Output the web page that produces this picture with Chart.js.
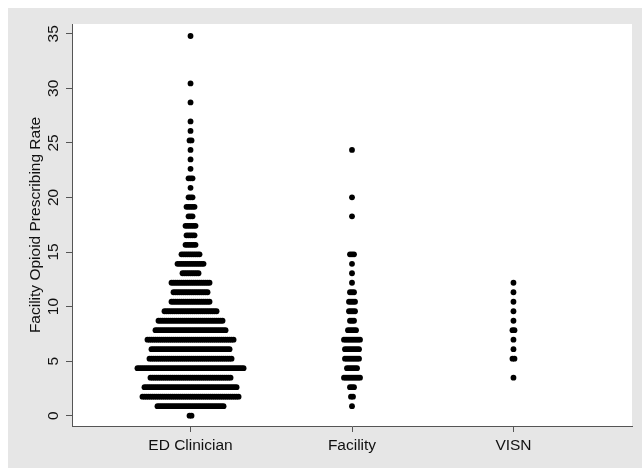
<!DOCTYPE html>
<html>
<head>
<meta charset="utf-8">
<script src="https://cdn.jsdelivr.net/npm/chart.js@4.4.1/dist/chart.umd.min.js"></script>
<style>
  html, body { margin: 0; padding: 0; background: #fff; }
  #wrap { width: 642px; height: 468px; }
</style>
</head>
<body>
<div id="wrap"><canvas id="dotplot"></canvas></div>
<script>
// ---- data ----
const groups = ['ED Clinician', 'Facility', 'VISN'];
const yTicks = [0, 5, 10, 15, 20, 25, 30, 35];
const binStep = 0.87;   // height of one dot row, in rate units

// number of dots in each row, row k sits at k * binStep
const edCounts = [2, 34, 49, 47, 41, 54, 42, 40, 44, 36,
                  33, 27, 20, 18, 20, 9, 14, 10, 6, 5,
                  6, 3, 5, 3, 1, 3, 1, 1, 1, 2,
                  1, 1, 0, 1, 0, 1, 0, 0, 0, 0, 1];
const facilityCounts = [0, 1, 2, 3, 9, 6, 8, 8, 9, 5,
                        3, 4, 4, 3, 1, 1, 1, 3, 0, 0,
                        0, 1, 0, 1, 0, 0, 0, 0, 1];
const visnCounts = [0, 0, 0, 0, 1, 0, 2, 1, 1, 2,
                    1, 1, 1, 1, 1];

const dotStep = 0.0124; // horizontal spacing of dots in a row (category units)
const FONT = '"Liberation Sans", Arial, sans-serif';

function dots(counts, pos) {
  const pts = [];
  counts.forEach((n, k) => {
    for (let i = 0; i < n; i++) {
      pts.push({ x: pos + (i - (n - 1) / 2) * dotStep, y: k * binStep });
    }
  });
  return pts;
}

// gray graph region + white plot region
const background = {
  id: 'background',
  beforeDraw(chart) {
    const { ctx, chartArea: a, width, height } = chart;
    ctx.save();
    ctx.fillStyle = '#fff';
    ctx.fillRect(0, 0, width, height);
    ctx.fillStyle = '#e6e6e6';
    ctx.fillRect(8, 8, width - 8, height - 8);
    ctx.fillStyle = '#fff';
    ctx.fillRect(a.left, a.top, a.right - a.left, a.bottom - a.top);
    ctx.restore();
  }
};

// Stata style vertical y tick labels
const yLabels = {
  id: 'yLabels',
  afterDraw(chart) {
    const { ctx, scales: { y } } = chart;
    ctx.save();
    ctx.font = '15.5px ' + FONT;
    ctx.fillStyle = '#111';
    ctx.textAlign = 'center';
    ctx.textBaseline = 'middle';
    y.ticks.forEach(t => {
      ctx.save();
      ctx.translate(y.right - 18, y.getPixelForValue(t.value));
      ctx.rotate(-Math.PI / 2);
      ctx.fillText(String(t.value), 0, 0);
      ctx.restore();
    });
    ctx.restore();
  }
};

const datasets = [edCounts, facilityCounts, visnCounts].map((c, i) => ({
  label: groups[i],
  data: dots(c, i + 1),
  backgroundColor: '#000',
  borderWidth: 0,
  pointRadius: 2.9,
  pointHoverRadius: 2.9,
  showLine: false
}));

new Chart(document.getElementById('dotplot'), {
  type: 'scatter',
  data: { datasets },
  options: {
    responsive: true,
    maintainAspectRatio: false,
    animation: false,
    layout: { padding: { top: 24, right: 10, left: 0, bottom: 0 } },
    plugins: {
      legend: { display: false },
      tooltip: { enabled: false }
    },
    scales: {
      x: {
        type: 'linear',
        min: 0.266,
        max: 3.734,
        afterBuildTicks: s => { s.ticks = [1, 2, 3].map(v => ({ value: v })); },
        afterFit: s => { s.height = 42; },
        ticks: {
          callback: v => groups[v - 1],
          font: { family: FONT, size: 15.5 },
          color: '#111',
          padding: 4,
          maxRotation: 0,
          autoSkip: false
        },
        grid: { drawOnChartArea: false, drawTicks: true, tickLength: 6, tickColor: '#555' },
        border: { color: '#555', width: 1 }
      },
      y: {
        min: -0.95,
        max: 35.9,
        afterBuildTicks: s => { s.ticks = yTicks.map(v => ({ value: v })); },
        afterFit: s => { s.width = 72; },
        ticks: { display: false },
        grid: { drawOnChartArea: false, drawTicks: true, tickLength: 6, tickColor: '#555' },
        border: { color: '#555', width: 1 },
        title: {
          display: true,
          text: 'Facility Opioid Prescribing Rate',
          font: { family: FONT, size: 15.5 },
          color: '#111',
          padding: { top: 26, bottom: 0 }
        }
      }
    }
  },
  plugins: [background, yLabels]
});
</script>
</body>
</html>
